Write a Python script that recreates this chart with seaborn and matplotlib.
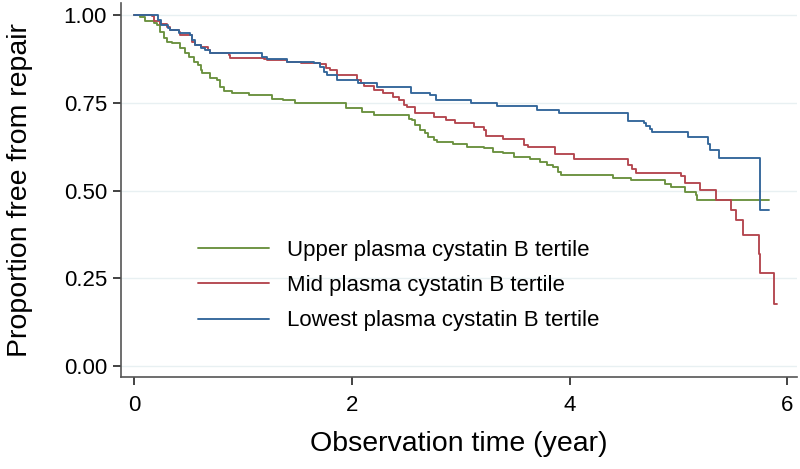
import matplotlib
matplotlib.use("Agg")
import matplotlib.pyplot as plt
import pandas as pd
import seaborn as sns

# Kaplan-Meier steps: (time in years, proportion free from repair)
upper_t = [0, 0.055, 0.10, 0.18, 0.21, 0.24, 0.27, 0.30, 0.35, 0.42, 0.47, 0.50, 0.55, 0.59,
           0.61, 0.62, 0.70, 0.76, 0.79, 0.82, 0.90, 1.05, 1.27, 1.37, 1.48, 1.95, 2.09, 2.20,
           2.52, 2.55, 2.58, 2.63, 2.67, 2.70, 2.75, 2.78, 2.93, 3.06, 3.21, 3.30, 3.39, 3.49,
           3.64, 3.73, 3.79, 3.85, 3.89, 3.92, 4.40, 4.56, 4.88, 4.93, 5.06, 5.16, 5.17, 5.83]
upper_s = [1.0, 0.995, 0.984, 0.976, 0.971, 0.952, 0.934, 0.924, 0.919, 0.905, 0.891, 0.881, 0.867, 0.857,
           0.843, 0.834, 0.820, 0.815, 0.796, 0.784, 0.777, 0.772, 0.762, 0.758, 0.750, 0.734, 0.724, 0.715,
           0.705, 0.701, 0.686, 0.672, 0.663, 0.653, 0.644, 0.639, 0.632, 0.624, 0.620, 0.610, 0.606, 0.596,
           0.591, 0.582, 0.572, 0.567, 0.553, 0.544, 0.537, 0.530, 0.520, 0.510, 0.496, 0.487, 0.472, 0.472]

mid_t = [0, 0.16, 0.18, 0.24, 0.30, 0.33, 0.41, 0.42, 0.53, 0.56, 0.61, 0.68, 0.70, 0.87, 0.88,
         1.19, 1.22, 1.40, 1.53, 1.71, 1.76, 1.80, 1.86, 2.05, 2.08, 2.11, 2.20, 2.29, 2.38, 2.43,
         2.48, 2.51, 2.58, 2.75, 2.86, 2.95, 3.12, 3.21, 3.23, 3.39, 3.58, 3.62, 3.87, 4.04, 4.54,
         4.57, 4.61, 5.02, 5.06, 5.20, 5.35, 5.48, 5.53, 5.59, 5.74, 5.75, 5.88, 5.91]
mid_s = [1.0, 0.997, 0.984, 0.974, 0.967, 0.957, 0.952, 0.943, 0.924, 0.914, 0.910, 0.900, 0.891, 0.886, 0.877,
         0.874, 0.872, 0.867, 0.862, 0.859, 0.848, 0.843, 0.829, 0.815, 0.805, 0.797, 0.786, 0.778, 0.767, 0.758,
         0.743, 0.737, 0.720, 0.708, 0.701, 0.693, 0.681, 0.672, 0.655, 0.648, 0.629, 0.623, 0.603, 0.591, 0.574,
         0.560, 0.550, 0.541, 0.522, 0.501, 0.474, 0.444, 0.415, 0.373, 0.320, 0.266, 0.178, 0.178]

low_t = [0, 0.22, 0.25, 0.31, 0.33, 0.41, 0.51, 0.53, 0.56, 0.61, 0.65, 0.70, 1.17, 1.22, 1.40,
         1.65, 1.71, 1.74, 1.77, 1.86, 2.06, 2.23, 2.54, 2.72, 2.77, 3.09, 3.33, 3.70, 3.90, 4.54,
         4.68, 4.70, 4.74, 4.76, 5.09, 5.27, 5.29, 5.37, 5.75, 5.83]
low_s = [1.0, 0.985, 0.971, 0.962, 0.957, 0.948, 0.943, 0.929, 0.914, 0.905, 0.900, 0.891, 0.881, 0.874, 0.867,
         0.862, 0.853, 0.838, 0.829, 0.815, 0.805, 0.794, 0.779, 0.772, 0.758, 0.750, 0.740, 0.730, 0.720, 0.699,
         0.692, 0.685, 0.675, 0.666, 0.653, 0.632, 0.615, 0.594, 0.444, 0.444]

groups = ["Upper plasma cystatin B tertile", "Mid plasma cystatin B tertile",
          "Lowest plasma cystatin B tertile"]
colors = ["#6a913e", "#b4464f", "#33669a"]

df = pd.concat([
    pd.DataFrame({"time": upper_t, "surv": upper_s, "group": groups[0]}),
    pd.DataFrame({"time": mid_t, "surv": mid_s, "group": groups[1]}),
    pd.DataFrame({"time": low_t, "surv": low_s, "group": groups[2]}),
], ignore_index=True)

sns.set_style("white")
plt.rcParams["font.family"] = ["Liberation Sans", "DejaVu Sans"]
plt.rcParams["text.color"] = "black"
plt.rcParams["axes.labelcolor"] = "black"
plt.rcParams["xtick.color"] = "black"
plt.rcParams["ytick.color"] = "black"

fig = plt.figure(figsize=(8, 4.69), dpi=100)
ax = fig.add_axes([121 / 800, 1 - 377 / 469, 676 / 800, 374 / 469])

sns.lineplot(data=df, x="time", y="surv", hue="group", hue_order=groups,
             palette=colors, estimator=None, drawstyle="steps-post",
             linewidth=1.35, ax=ax)

ax.set_xlim(-0.122, 6.09)
ax.set_ylim(-0.031, 1.034)
ax.set_xticks([0, 2, 4, 6])
ax.set_yticks([0, 0.25, 0.5, 0.75, 1.0])
ax.set_yticklabels(["0.00", "0.25", "0.50", "0.75", "1.00"])
ax.grid(axis="y", color="#e8f0f2", linewidth=1)
ax.set_axisbelow(True)
for side in ["top", "right"]:
    ax.spines[side].set_visible(False)
for side in ["left", "bottom"]:
    ax.spines[side].set_color("#555555")
    ax.spines[side].set_linewidth(1.2)
ax.tick_params(axis="both", direction="out", length=6, width=1.2, color="#222222",
               labelsize=16, pad=4, bottom=True, left=True)
ax.tick_params(axis="x", pad=7)
ax.set_xlabel("Observation time (year)", fontsize=20.5, labelpad=11)
ax.set_ylabel("Proportion free from repair", fontsize=20.5, labelpad=22)

handles, labels = ax.get_legend_handles_labels()
ax.legend(handles, labels, loc="upper left", bbox_to_anchor=(198 / 800, 1 - 240 / 469),
          bbox_transform=fig.transFigure, frameon=False, fontsize=16, handlelength=3.2,
          handletextpad=0.8, labelspacing=0.64, borderpad=0, borderaxespad=0)

fig.savefig("out.png", dpi=100)
